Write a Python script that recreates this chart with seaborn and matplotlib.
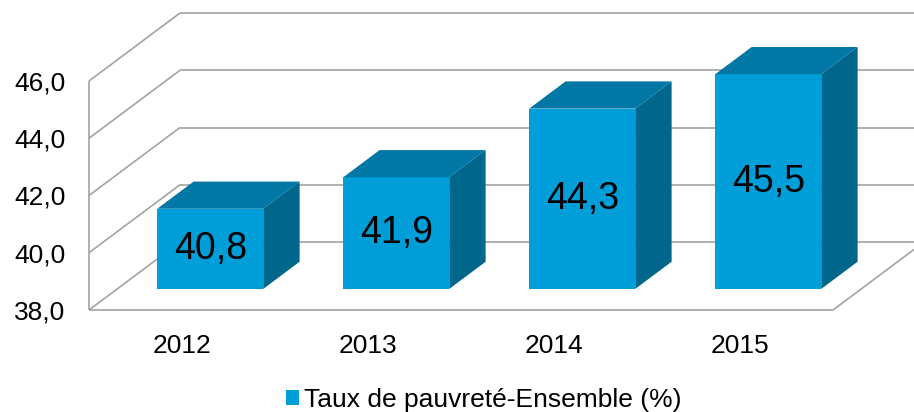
import matplotlib
matplotlib.use("Agg")
import matplotlib.pyplot as plt
from matplotlib.patches import Polygon
import seaborn as sns

years = ["2012", "2013", "2014", "2015"]
taux = [40.8, 41.9, 44.3, 45.5]
yticks = [38, 40, 42, 44, 46]
series_name = "Taux de pauvreté-Ensemble (%)"

sns.set_style("white")
plt.rcParams["font.family"] = ["Liberation Sans", "DejaVu Sans"]
plt.rcParams["text.color"] = "black"
plt.rcParams["xtick.color"] = "black"
plt.rcParams["ytick.color"] = "black"

W, H = 914, 412
FRONT = "#009ED9"
TOP = "#0077A4"
SIDE = "#00668C"
GRID = "#A3A3A3"

fig = plt.figure(figsize=(W / 100, H / 100), dpi=100)

# front plane of the 3d box, in pixels
L, R, BOT, TOPPX = 89, 833, 310, 81
DEPTH = (91, 68)      # shift from front wall to back wall, px
D_FRONT, D_BAR = 0.31, 0.40   # where the bars sit in the depth, and how deep they are

pos = [L / W, (H - BOT) / H, (R - L) / W, (BOT - TOPPX) / H]
ax = fig.add_axes(pos)
ymin, ymax = yticks[0], yticks[-1]
ax.set_xlim(-0.5, len(years) - 0.5)
ax.set_ylim(ymin, ymax)

# depth in data units
ux = (R - L) / len(years)
uy = (BOT - TOPPX) / (ymax - ymin)
ddx, ddy = DEPTH[0] / ux, DEPTH[1] / uy
x0, x1 = ax.get_xlim()

line_kw = dict(color=GRID, lw=1.2, clip_on=False, solid_capstyle="butt")
for t in yticks:
    ax.plot([x0 + ddx, x1 + ddx], [t + ddy, t + ddy], **line_kw)   # back wall
    ax.plot([x0, x0 + ddx], [t, t + ddy], **line_kw)               # side wall
ax.plot([x0, x0], [ymin, ymax], **line_kw)
ax.plot([x0, x1], [ymin, ymin], **line_kw)
ax.plot([x1, x1 + ddx], [ymin, ymin + ddy], **line_kw)

ax.set_xticks(range(len(years)), years)
ax.set_yticks(yticks, [f"{t:.1f}".replace(".", ",") for t in yticks])
ax.tick_params(axis="both", length=0, labelsize=19)
ax.tick_params(axis="y", pad=17)
ax.tick_params(axis="x", pad=17)
sns.despine(ax=ax, left=True, bottom=True)
ax.patch.set_alpha(0)

# bars sit on a plane a bit behind the front wall
axb = fig.add_axes([pos[0] + D_FRONT * DEPTH[0] / W, pos[1] + D_FRONT * DEPTH[1] / H, pos[2], pos[3]])
sns.barplot(x=years, y=taux, ax=axb, color=FRONT, saturation=1, width=0.57,
            linewidth=0, label=series_name)
axb.set_xlim(x0, x1)
axb.set_ylim(ymin, ymax)
axb.axis("off")
if axb.get_legend() is not None:
    axb.get_legend().remove()

bars = axb.containers[0]
bx, by = D_BAR * ddx, D_BAR * ddy
for p, v in zip(bars, taux):
    p.set_y(ymin)
    p.set_height(v - ymin)
    x, w = p.get_x(), p.get_width()
    axb.add_patch(Polygon([(x, v), (x + w, v), (x + w + bx, v + by), (x + bx, v + by)],
                          closed=True, facecolor=TOP, lw=0, clip_on=False))
    axb.add_patch(Polygon([(x + w, ymin), (x + w, v), (x + w + bx, v + by), (x + w + bx, ymin + by)],
                          closed=True, facecolor=SIDE, lw=0, clip_on=False))

axb.bar_label(bars, labels=[f"{v:.1f}".replace(".", ",") for v in taux],
              label_type="center", fontsize=27, color="black")

handles, labels = axb.get_legend_handles_labels()
fig.legend(handles[:1], labels[:1], loc="center", bbox_to_anchor=(484 / W, 1 - 400 / H),
           frameon=False, fontsize=19, handlelength=0.5, handleheight=0.5, handletextpad=0.2)

fig.savefig("out.png", dpi=100)
